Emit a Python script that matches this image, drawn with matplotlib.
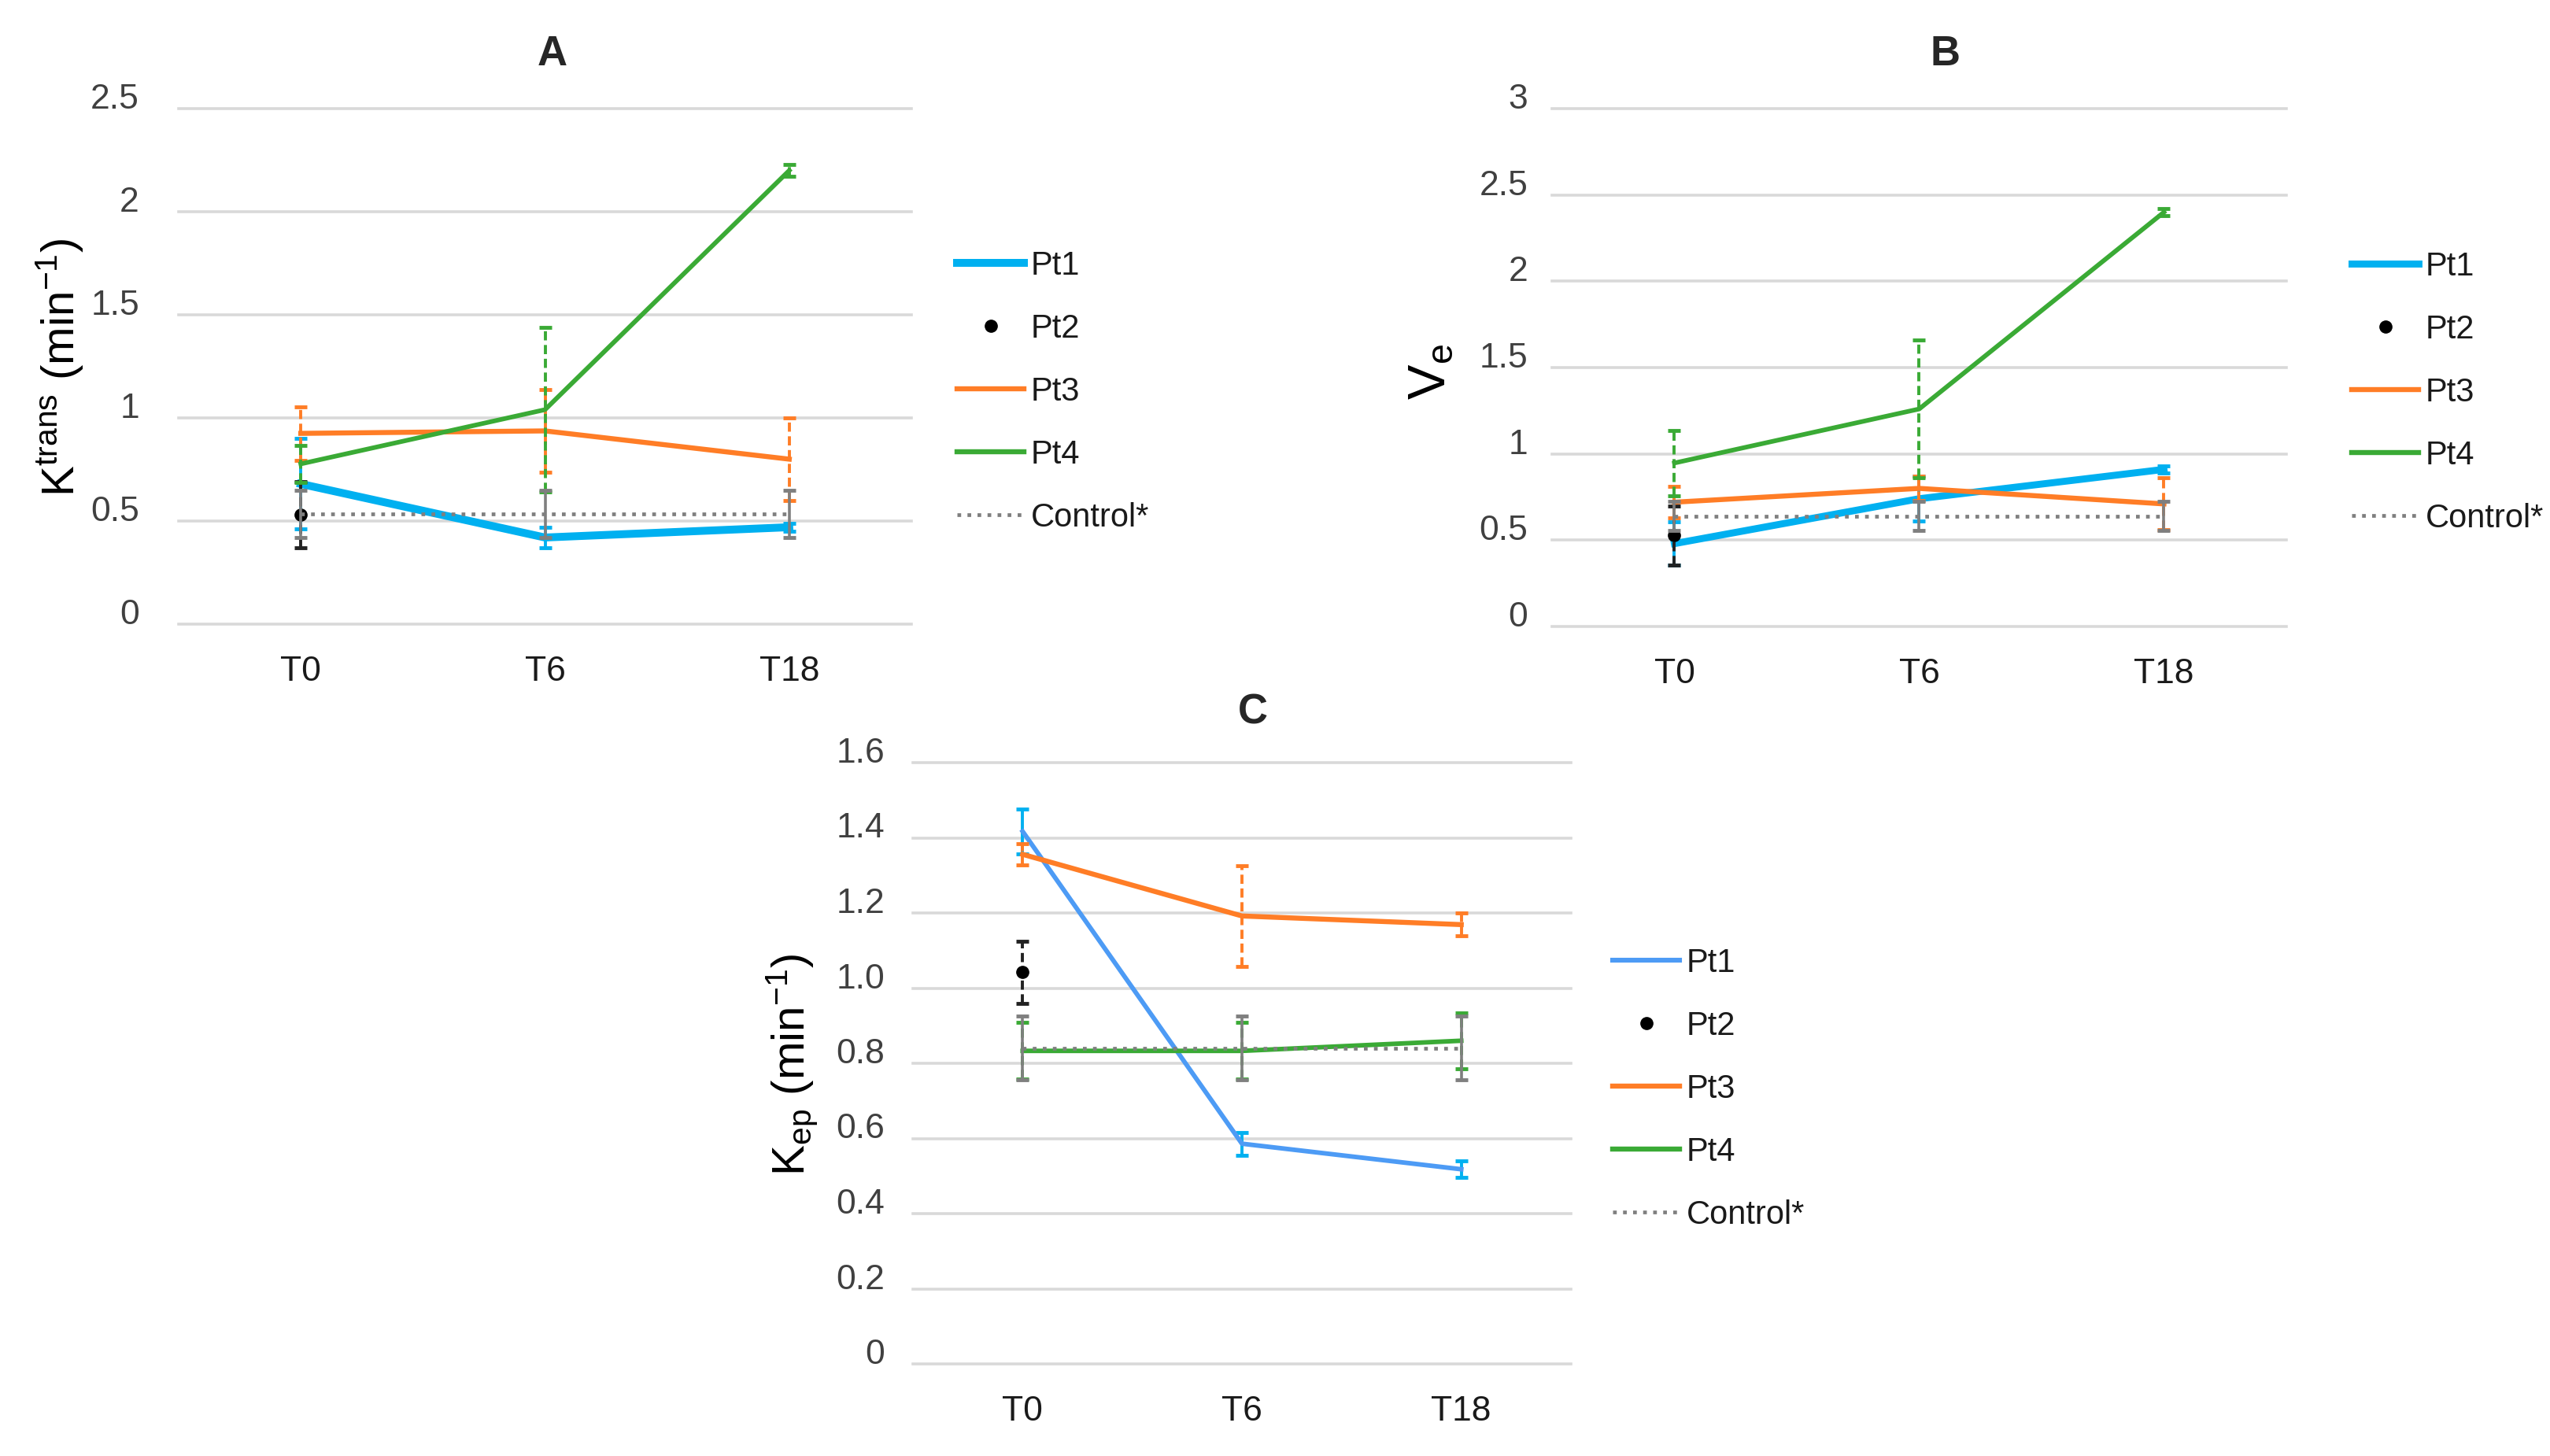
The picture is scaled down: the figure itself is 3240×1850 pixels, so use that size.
import matplotlib
matplotlib.use('Agg')
import matplotlib.pyplot as plt
from matplotlib.lines import Line2D
import numpy as np

plt.rcParams['font.family'] = ['Liberation Sans', 'DejaVu Sans']
plt.rcParams['mathtext.default'] = 'regular'

timepoints = ['T0', 'T6', 'T18']
series_names = ['Pt1', 'Pt2', 'Pt3', 'Pt4', 'Control*']

# Panel A: Ktrans (min^-1)
a_pt1 = [0.68, 0.42, 0.47]
a_pt1_err = [0.22, 0.05, 0.02]
a_pt2 = [0.53]
a_pt2_err = [0.16]
a_pt3 = [0.925, 0.937, 0.80]
a_pt3_err = [0.13, 0.20, 0.20]
a_pt4 = [0.777, 1.04, 2.20]
a_pt4_err = [0.09, 0.40, 0.03]
a_ctrl = [0.535, 0.535, 0.535]
a_ctrl_err = [0.115, 0.115, 0.115]
a_ticks = [0, 0.5, 1, 1.5, 2, 2.5]
a_ticklabels = ['0', '0.5', '1', '1.5', '2', '2.5']

# Panel B: Ve
b_pt1 = [0.48, 0.74, 0.91]
b_pt1_err = [0.125, 0.13, 0.02]
b_pt2 = [0.527]
b_pt2_err = [0.17]
b_pt3 = [0.72, 0.80, 0.71]
b_pt3_err = [0.09, 0.07, 0.15]
b_pt4 = [0.947, 1.26, 2.40]
b_pt4_err = [0.19, 0.40, 0.02]
b_ctrl = [0.64, 0.64, 0.64]
b_ctrl_err = [0.085, 0.085, 0.085]
b_ticks = [0, 0.5, 1, 1.5, 2, 2.5, 3]
b_ticklabels = ['0', '0.5', '1', '1.5', '2', '2.5', '3']

# Panel C: Kep (min^-1)
c_pt1 = [1.417, 0.586, 0.518]
c_pt1_err = [0.06, 0.03, 0.022]
c_pt2 = [1.042]
c_pt2_err = [0.083]
c_pt3 = [1.356, 1.192, 1.169]
c_pt3_err = [0.028, 0.134, 0.03]
c_pt4 = [0.833, 0.833, 0.86]
c_pt4_err = [0.075, 0.075, 0.075]
c_ctrl = [0.84, 0.84, 0.84]
c_ctrl_err = [0.085, 0.085, 0.085]
c_ticks = [0, 0.2, 0.4, 0.6, 0.8, 1.0, 1.2, 1.4, 1.6]
c_ticklabels = ['0', '0.2', '0.4', '0.6', '0.8', '1.0', '1.2', '1.4', '1.6']

CYAN = '#00B0F0'
CORNFLOWER = '#4D9BF5'
ORANGE = '#FF7D26'
GREEN = '#3AAA35'
GRAY = '#7F7F7F'
GRID = '#D9D9D9'
DOTS = (0, (1, 1.7))

W, H = 3241, 1850
fig = plt.figure(figsize=(W / 100, H / 100), dpi=100)
fig.patch.set_facecolor('white')


def px_axes(left, top, right, bottom):
    return fig.add_axes([left / W, 1 - bottom / H, (right - left) / W, (bottom - top) / H])


def errbars(ax, x, y, err, color, ls, z, lw=2.8):
    eb = ax.errorbar(x, y, yerr=err, fmt='none', ecolor=color, elinewidth=lw,
                     capsize=6, capthick=3.5, zorder=z)
    for lc in eb[2]:
        lc.set_linestyle(ls)
        lc.set_capstyle('butt')


def panel(ax, pt1, pt1e, pt2, pt2e, pt3, pt3e, pt4, pt4e, ctrl, ctrle,
          ticks, ticklabels, ymax, pt1_color, pt1_lw, ypad):
    x = np.arange(len(timepoints))
    ax.set_xlim(-0.5, len(timepoints) - 0.5)
    ax.set_ylim(0, ymax)
    for s in ax.spines.values():
        s.set_visible(False)
    ax.set_yticks(ticks, ticklabels, va='baseline')
    ax.set_xticks(x, timepoints)
    ax.tick_params(axis='y', length=0, pad=ypad, labelsize=32, labelcolor='#404040')
    ax.tick_params(axis='x', length=0, pad=29, labelsize=32, labelcolor='#1a1a1a')
    ax.yaxis.grid(True, color=GRID, lw=2.6)
    ax.set_axisbelow(True)
    for gl in ax.get_ygridlines():
        gl.set_clip_on(False)

    errbars(ax, x, pt1, pt1e, CYAN, '-', 3)
    ax.plot(x, pt1, color=pt1_color, lw=pt1_lw, zorder=4, solid_joinstyle='round')
    errbars(ax, x[:len(pt2)], pt2, pt2e, '#222222', (0, (3, 1.5)), 5)
    ax.plot(x[:len(pt2)], pt2, 'o', color='black', ms=11, zorder=6)
    errbars(ax, x, pt3, pt3e, ORANGE, (0, (3, 1.5)), 7)
    ax.plot(x, pt3, color=ORANGE, lw=4.6, zorder=8)
    errbars(ax, x, pt4, pt4e, GREEN, (0, (3, 1.5)), 9)
    ax.plot(x, pt4, color=GREEN, lw=4.2, zorder=10)
    errbars(ax, x, ctrl, ctrle, GRAY, '-', 11, lw=2.6)
    ax.plot(x, ctrl, color=GRAY, lw=3.4, ls=DOTS, zorder=12)


def legend(ax, left, top, pt1_color, pt1_lw):
    handles = [
        Line2D([], [], color=pt1_color, lw=pt1_lw),
        Line2D([], [], color='black', marker='o', ls='none', ms=11),
        Line2D([], [], color=ORANGE, lw=4.6),
        Line2D([], [], color=GREEN, lw=4.6),
        Line2D([], [], color=GRAY, lw=3.4, ls=DOTS),
    ]
    ax.legend(handles, series_names, loc='upper left',
              bbox_to_anchor=(left / W, 1 - top / H), bbox_transform=fig.transFigure,
              frameon=False, borderpad=0, borderaxespad=0, fontsize=30,
              handlelength=2.05, handletextpad=0.2, labelspacing=0.96, labelcolor='#1a1a1a')


# Panel A
axA = px_axes(227, 138, 1158, 793)
panel(axA, a_pt1, a_pt1_err, a_pt2, a_pt2_err, a_pt3, a_pt3_err, a_pt4, a_pt4_err,
      a_ctrl, a_ctrl_err, a_ticks, a_ticklabels, 2.5, CYAN, 7.2, 36)
legend(axA, 1216, 318, CYAN, 7.2)
fig.text(702 / W, 1 - 69 / H, 'A', ha='center', va='center', fontsize=38,
         fontweight='bold', color='#262626')
fig.text(75 / W, 1 - 467 / H, r'$K^{trans}$ $(min^{-1})$', rotation=90, ha='center',
         va='center', fontsize=42)

# Panel B
axB = px_axes(1972, 138, 2905, 796)
panel(axB, b_pt1, b_pt1_err, b_pt2, b_pt2_err, b_pt3, b_pt3_err, b_pt4, b_pt4_err,
      b_ctrl, b_ctrl_err, b_ticks, b_ticklabels, 3, CYAN, 6.4, 22)
legend(axB, 2988, 319, CYAN, 6.4)
fig.text(2471 / W, 1 - 69 / H, 'B', ha='center', va='center', fontsize=38,
         fontweight='bold', color='#262626')
fig.text(1819 / W, 1 - 473 / H, r'$V_e$', rotation=90, ha='center',
         va='center', fontsize=48)

# Panel C
axC = px_axes(1160, 969, 1996, 1733)
panel(axC, c_pt1, c_pt1_err, c_pt2, c_pt2_err, c_pt3, c_pt3_err, c_pt4, c_pt4_err,
      c_ctrl, c_ctrl_err, c_ticks, c_ticklabels, 1.6, CORNFLOWER, 4.2, 26)
legend(axC, 2049, 1204, CORNFLOWER, 4.4)
fig.text(1592 / W, 1 - 906 / H, 'C', ha='center', va='center', fontsize=38,
         fontweight='bold', color='#262626')
fig.text(1006 / W, 1 - 1353 / H, r'$K_{ep}$ $(min^{-1})$', rotation=90, ha='center',
         va='center', fontsize=42)

fig.savefig('out.png', dpi=100, facecolor='white')
